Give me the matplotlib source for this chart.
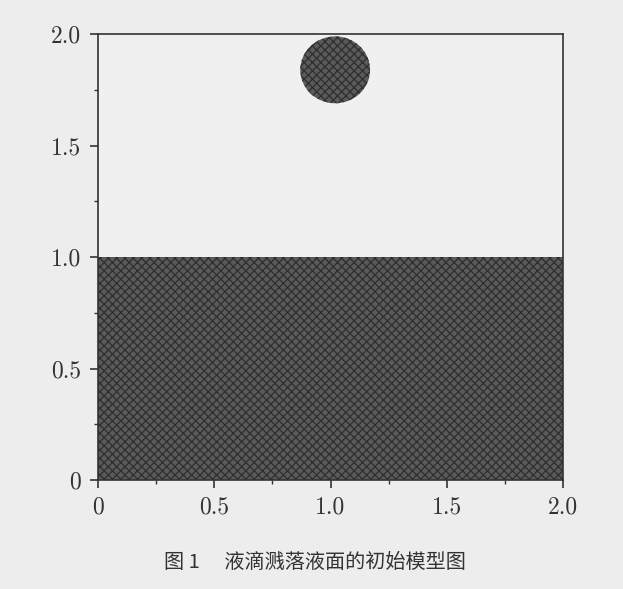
import matplotlib.pyplot as plt
from matplotlib.patches import Rectangle, Circle
from matplotlib.ticker import MultipleLocator

# 初始模型: 液面 + 液滴
pool_width = 2.0
pool_depth = 1.0
drop_center = (1.02, 1.84)
drop_radius = 0.15
xticks = [0, 0.5, 1.0, 1.5, 2.0]
yticks = [0, 0.5, 1.0, 1.5, 2.0]
ticklabels = ['0', '0.5', '1.0', '1.5', '2.0']
caption = "图 1\u3000 液滴溅落液面的初始模型图"

plt.rcParams['hatch.linewidth'] = 0.9

fig = plt.figure(figsize=(6.23, 5.89), dpi=100, facecolor='#ededed')
ax = fig.add_axes([0.157, 0.185, 0.747, 0.757])
ax.set_facecolor('#f0f0f0')

ax.add_patch(Rectangle((0, 0), pool_width, pool_depth, facecolor='#5a5a5a',
                       edgecolor='#2e2e2e', hatch='xxxx', linewidth=0))
ax.add_patch(Circle(drop_center, drop_radius, facecolor='#5a5a5a',
                    edgecolor='#2e2e2e', hatch='xxxx', linewidth=0))

ax.set_xlim(0, 2)
ax.set_ylim(0, 2)
ax.set_xticks(xticks)
ax.set_yticks(yticks)
ax.set_xticklabels(ticklabels, fontfamily='cmr10', fontsize=17)
ax.set_yticklabels(ticklabels, fontfamily='cmr10', fontsize=17)
ax.xaxis.set_minor_locator(MultipleLocator(0.25))
ax.yaxis.set_minor_locator(MultipleLocator(0.25))
ax.tick_params(which='both', direction='out', top=False, right=False, color='#333333')
ax.tick_params(which='major', length=6, width=1.2, pad=6, labelcolor='#333333')
ax.tick_params(which='minor', length=3, width=1.0)
for s in ax.spines.values():
    s.set_color('#333333')
    s.set_linewidth(1.2)

fig.text(0.506, 0.045, caption, ha='center', va='center', fontsize=14.5,
         family=['Noto Sans CJK SC', 'DejaVu Sans'], color='#333333')

fig.savefig('out.png', dpi=100, facecolor=fig.get_facecolor())
